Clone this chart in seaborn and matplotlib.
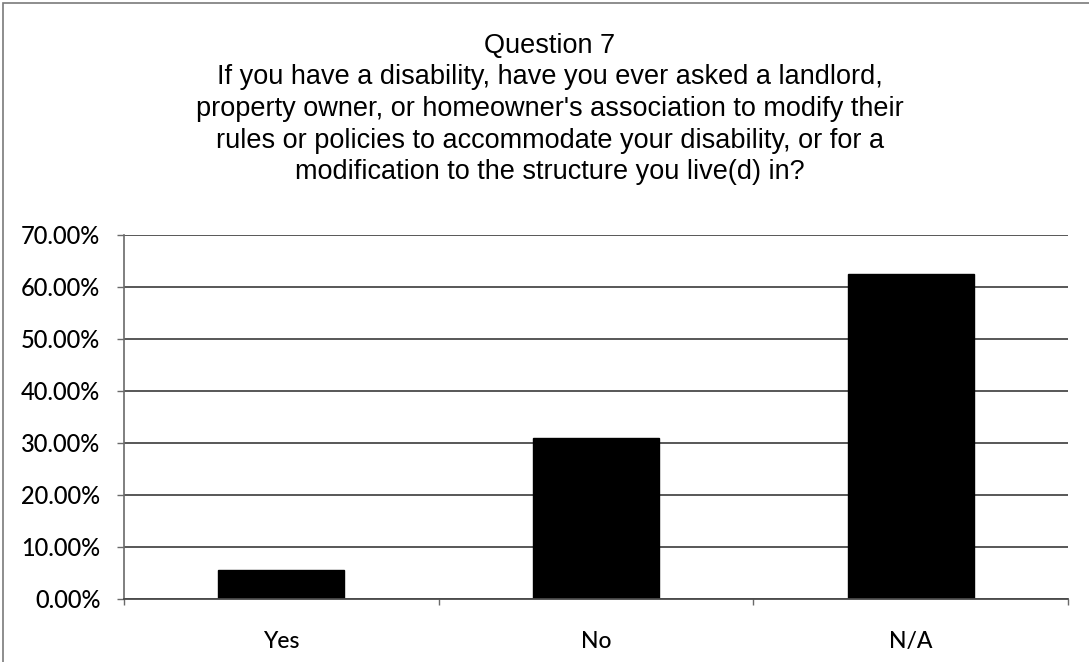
import matplotlib
matplotlib.use('Agg')
import matplotlib.pyplot as plt
import seaborn as sns
from matplotlib.ticker import PercentFormatter, FixedLocator
from matplotlib.patches import Rectangle

categories = ['Yes', 'No', 'N/A']
shares = [0.056, 0.310, 0.625]

title_lines = [
    'Question 7',
    'If you have a disability, have you ever asked a landlord,',
    "property owner, or homeowner's association to modify their",
    'rules or policies to accommodate your disability, or for a',
    'modification to the structure you live(d) in?',
]

sns.set_theme(style='white')
plt.rcParams['font.family'] = ['Lato', 'DejaVu Sans']

fig = plt.figure(figsize=(10.89, 6.62), dpi=100)
ax = fig.add_axes([124 / 1089, 1 - 599 / 662, (1068 - 124) / 1089, (599 - 235) / 662])

sns.barplot(x=categories, y=shares, color='black', width=0.4, saturation=1,
            edgecolor='black', ax=ax)

ax.set_ylim(0, 0.7)
ax.set_xlim(-0.5, 2.5)
ax.yaxis.set_major_locator(FixedLocator([i / 10 for i in range(8)]))
ax.yaxis.set_major_formatter(PercentFormatter(xmax=1, decimals=2))
ax.grid(axis='y', color='#4a4a4a', linewidth=1.3)
ax.set_axisbelow(True)

for side in ['top', 'right']:
    ax.spines[side].set_visible(False)
ax.spines['left'].set_color('#6a6a6a')
ax.spines['bottom'].set_color('#4a4a4a')
ax.spines['left'].set_linewidth(1.2)
ax.spines['bottom'].set_linewidth(1.3)

# category boundary ticks on x, label ticks hidden
ax.xaxis.set_minor_locator(FixedLocator([-0.5, 0.5, 1.5, 2.5]))
ax.tick_params(axis='x', which='major', length=0, pad=23, labelsize=16.5)
ax.tick_params(axis='x', which='minor', bottom=True, length=4, width=1, color='#6a6a6a')
ax.tick_params(axis='y', left=True, length=5, width=1, color='#6a6a6a', pad=12,
               labelsize=17, labelcolor='black')
for lab in ax.get_xticklabels() + ax.get_yticklabels():
    lab.set_color('black')
    lab.set_fontweight('medium')
ax.set_xlabel('')
ax.set_ylabel('')

y0 = 46
for i, line in enumerate(title_lines):
    fig.text(550 / 1089, 1 - (y0 + i * 31.5) / 662, line, ha='center', va='center',
             fontsize=19.5, family=['Liberation Sans', 'DejaVu Sans'], color='black')

fig.patches.append(Rectangle((3 / 1089, -0.1), 1.2, 1.1 - 3 / 662, transform=fig.transFigure,
                             fill=False, edgecolor='#7a7a7a', linewidth=1.2))

fig.savefig('out.png', dpi=100)
